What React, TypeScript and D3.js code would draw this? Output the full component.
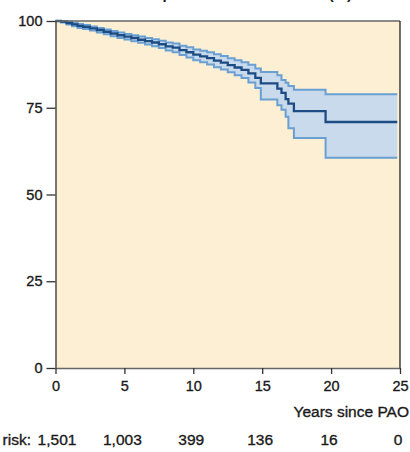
import React, { useEffect, useRef } from 'react'
import * as d3 from 'd3'

// Kaplan-Meier survival (years, %)
const years = [0, 0.4, 0.8, 1.2, 1.6, 2.0, 2.5, 3.0, 3.5, 4.0, 4.5, 5.0, 5.5, 6.0, 6.5, 7.0, 7.5, 8.0, 8.5, 9.0, 9.5, 10.0, 10.5, 11.0, 11.5, 12.0, 12.5, 13.0, 13.5, 14.0, 14.5, 14.9, 16.1, 16.4, 16.7, 16.9, 17.3, 19.6, 24.8]
const survival = [100, 99.8, 99.4, 99.0, 98.6, 98.3, 97.9, 97.4, 96.9, 96.4, 95.9, 95.5, 95.1, 94.6, 94.2, 93.8, 93.3, 92.7, 92.3, 91.6, 91.0, 90.3, 89.8, 89.3, 88.6, 88.0, 87.3, 86.6, 85.9, 84.9, 83.6, 82.0, 80.5, 79.3, 77.5, 76.2, 74.0, 70.9, 70.9]
const upperCI = [100, 99.95, 99.75, 99.45, 99.1, 98.85, 98.45, 98.0, 97.55, 97.1, 96.65, 96.25, 95.9, 95.5, 95.1, 94.75, 94.3, 93.8, 93.5, 92.9, 92.4, 91.8, 91.4, 91.0, 90.4, 89.9, 89.3, 88.7, 88.1, 87.4, 86.3, 85.3, 84.4, 83.0, 82.2, 81.3, 80.2, 78.9, 78.9]
const lowerCI = [100, 99.55, 99.0, 98.5, 98.0, 97.7, 97.25, 96.7, 96.15, 95.6, 95.1, 94.65, 94.2, 93.7, 93.2, 92.75, 92.2, 91.5, 91.0, 90.2, 89.5, 88.7, 88.1, 87.5, 86.7, 86.0, 85.2, 84.4, 83.6, 82.3, 80.7, 77.4, 75.7, 74.4, 72.4, 69.1, 66.3, 60.6, 60.6]

const xTicks = [0, 5, 10, 15, 20, 25]
const yTicks = [0, 25, 50, 75, 100]
const atRisk = ['1,501', '1,003', '399', '136', '16', '0']

const W = 410
const H = 452
const margin = { top: 21, right: 10, bottom: 84, left: 56 }

export default function App() {
  const ref = useRef<SVGSVGElement>(null)

  useEffect(() => {
    const svg = d3.select(ref.current)
    svg.selectAll('*').remove()

    const x = d3.scaleLinear().domain([0, 25]).range([margin.left - 0.5, W - margin.right])
    const y = d3.scaleLinear().domain([0, 100]).range([H - margin.bottom, margin.top])

    const data = years.map((t, i) => ({ t, s: survival[i], lo: lowerCI[i], hi: upperCI[i] }))
    const font = '"Liberation Sans", Arial, sans-serif'
    const ink = '#1a1a1a'

    // title, mostly cut off at the top
    svg.append('text')
      .attr('x', 352)
      .attr('y', -1.5)
      .attr('text-anchor', 'end')
      .attr('font-family', font)
      .attr('font-weight', 'bold')
      .attr('font-size', 15)
      .attr('fill', ink)
      .text('Cumulative hip survival without THA (%)')

    // plot background
    svg.append('rect')
      .attr('x', x(0))
      .attr('y', y(100))
      .attr('width', x(25) - x(0))
      .attr('height', y(0) - y(100))
      .attr('fill', '#fdefd3')

    const area = d3.area<any>()
      .x(d => x(d.t))
      .y0(d => y(d.lo))
      .y1(d => y(d.hi))
      .curve(d3.curveStepAfter)

    svg.append('path')
      .datum(data)
      .attr('d', area)
      .attr('fill', '#c8daeb')

    const band = (key: string) => d3.line<any>()
      .x(d => x(d.t))
      .y(d => y(d[key]))
      .curve(d3.curveStepAfter)

    ;['lo', 'hi'].forEach((k) => {
      svg.append('path')
        .datum(data)
        .attr('d', band(k))
        .attr('fill', 'none')
        .attr('stroke', '#6a9fd2')
        .attr('stroke-width', 2)
    })

    svg.append('path')
      .datum(data)
      .attr('d', band('s'))
      .attr('fill', 'none')
      .attr('stroke', '#1d4c84')
      .attr('stroke-width', 2.3)

    // frame: top, right
    svg.append('path')
      .attr('d', `M${x(0)},${y(100)}H${x(25)}`)
      .attr('stroke', '#666')
      .attr('stroke-width', 1.3)
    svg.append('path')
      .attr('d', `M${x(25)},${y(100)}V${y(0)}`)
      .attr('stroke', '#222')
      .attr('stroke-width', 1.3)

    const yAxis = svg.append('g')
      .attr('transform', `translate(${x(0)},0)`)
      .call(d3.axisLeft(y).tickValues(yTicks).tickSize(9).tickPadding(4).tickSizeOuter(0))
    const xAxis = svg.append('g')
      .attr('transform', `translate(0,${y(0)})`)
      .call(d3.axisBottom(x).tickValues(xTicks).tickSize(6).tickPadding(7).tickSizeOuter(0))

    ;[yAxis, xAxis].forEach((g) => {
      g.select('.domain').attr('stroke', '#333').attr('stroke-width', 1.3)
      g.selectAll('.tick line').attr('stroke', '#333').attr('stroke-width', 1.3)
      g.selectAll('.tick text')
        .attr('font-family', font)
        .attr('font-size', 14.5)
        .attr('fill', ink)
        .attr('stroke', ink)
        .attr('stroke-width', 0.35)
    })
    xAxis.select('.domain').attr('stroke', '#666')

    const label = (txt: string, xp: number, yp: number, anchor: string) =>
      svg.append('text')
        .attr('x', xp)
        .attr('y', yp)
        .attr('text-anchor', anchor)
        .attr('font-family', font)
        .attr('font-size', 15.5)
        .attr('fill', ink)
        .attr('stroke', ink)
        .attr('stroke-width', 0.35)
        .text(txt)

    label('Years since PAO', W - 1, 417, 'end')
    label('Number at risk:', 31, 445, 'end')

    atRisk.forEach((d, i) => {
      label(d, x(xTicks[i]) + (i === 0 ? 1.5 : -2), 445, 'middle')
    })
  }, [])

  return (
    <svg
      ref={ref}
      width={W}
      height={H}
      style={{ position: 'absolute', left: 0, top: 0, background: '#fff' }}
    />
  )
}
